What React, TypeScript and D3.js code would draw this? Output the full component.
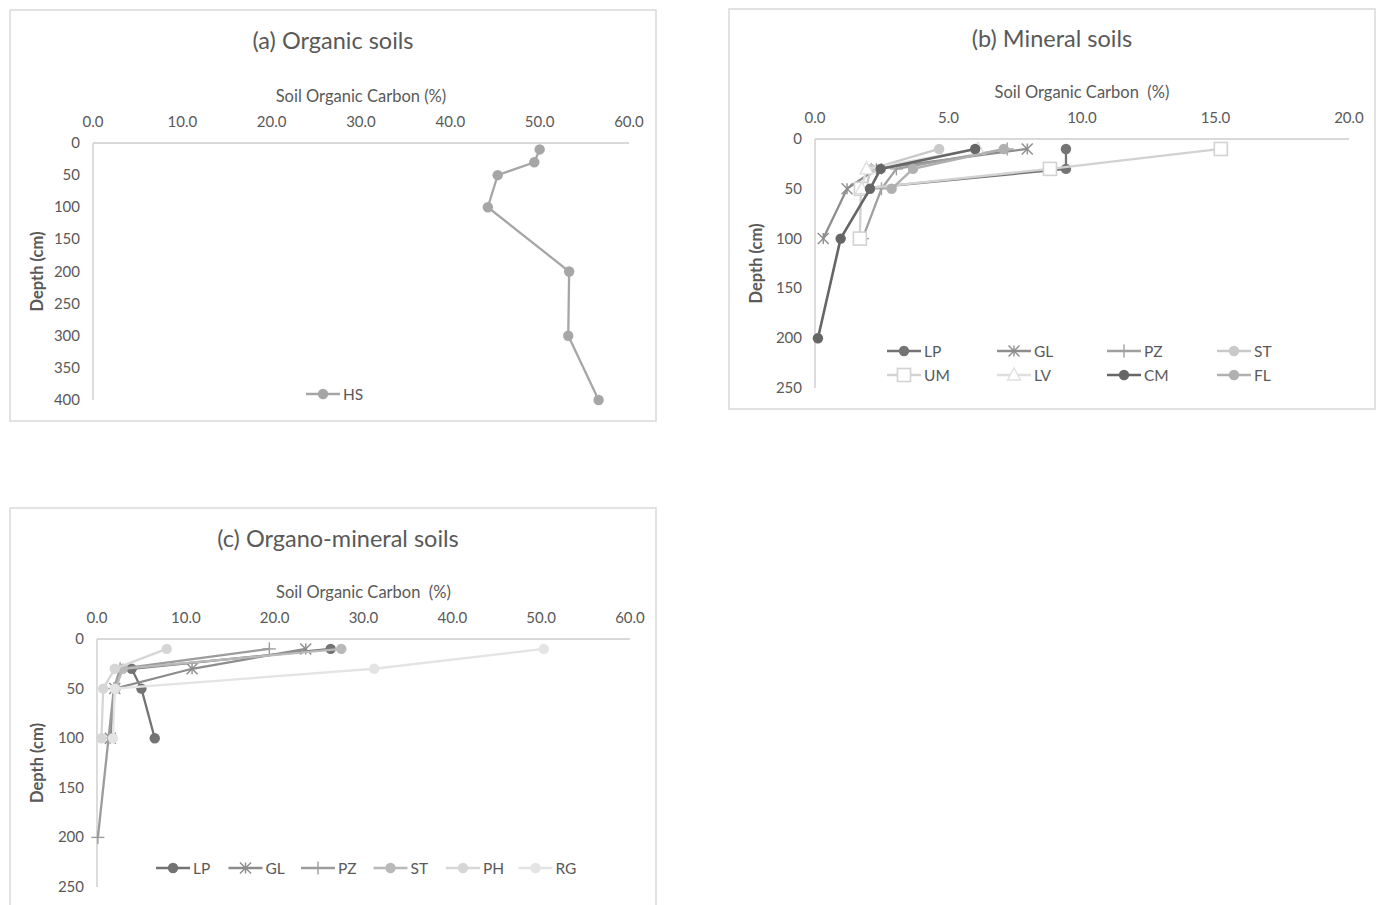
import * as d3 from "d3";

// depths (cm) at which samples were taken
const DEPTH_A = [10, 30, 50, 100, 200, 300, 400];
const DEPTH_BC = [10, 30, 50, 100, 200];

// (a) organic soils
const HS = [50.0, 49.4, 45.3, 44.2, 53.3, 53.2, 56.6];

// (b) mineral soils — each series uses the first N depths
const LP_B = [9.4, 9.4, 1.66];
const GL_B = [7.95, 2.3, 1.2, 0.31];
const PZ_B = [7.2, 3.05, 2.49, 1.78];
const ST_B = [4.65, 2.1, 1.9];
const UM_B = [15.2, 8.8, 1.72, 1.68];
const LV_B = [6.1, 1.93, 1.75];
const CM_B = [6.0, 2.46, 2.06, 0.96, 0.11];
const FL_B = [7.07, 3.67, 2.87];

// (c) organo-mineral soils
const LP_C = [26.3, 3.9, 5.0, 6.5];
const GL_C = [23.5, 10.7, 2.0, 1.5];
const PZ_C = [19.4, 2.6, 1.9, 1.3, 0.1];
const ST_C = [27.5, 2.9, 2.1];
const PH_C = [7.85, 2.0, 0.7, 0.5];
const RG_C = [50.3, 31.2, 2.0, 1.8];

const X_TICKS_60 = [0, 10, 20, 30, 40, 50, 60];
const X_TICKS_20 = [0, 5, 10, 15, 20];
const Y_TICKS_400 = [0, 50, 100, 150, 200, 250, 300, 350, 400];
const Y_TICKS_250 = [0, 50, 100, 150, 200, 250];

const FONT = "Lato, 'Open Sans', sans-serif";
const TEXT = "#595959";
const AXIS = "#d9d9d9";

type Shape = "circle" | "star" | "plus" | "square" | "triangle";
type Series = { name: string; values: number[]; depths: number[]; color: string; shape: Shape; width?: number };

function Marker({ shape, x, y, color }: { shape: Shape; x: number; y: number; color: string }) {
  if (shape === "circle") return <circle cx={x} cy={y} r={5.2} fill={color} />;
  if (shape === "star") {
    const s = 5.5;
    return (
      <g stroke={color} strokeWidth={1.4}>
        <line x1={x - s} y1={y - s} x2={x + s} y2={y + s} />
        <line x1={x - s} y1={y + s} x2={x + s} y2={y - s} />
        <line x1={x} y1={y - s} x2={x} y2={y + s} />
      </g>
    );
  }
  if (shape === "plus") {
    const s = 6.5;
    return (
      <g stroke={color} strokeWidth={1.4}>
        <line x1={x - s} y1={y} x2={x + s} y2={y} />
        <line x1={x} y1={y - s} x2={x} y2={y + s} />
      </g>
    );
  }
  if (shape === "square")
    return <rect x={x - 6.5} y={y - 6.5} width={13} height={13} fill="white" stroke={color} strokeWidth={1.6} />;
  return (
    <polygon
      points={`${x},${y - 7} ${x - 6.5},${y + 5} ${x + 6.5},${y + 5}`}
      fill="white"
      stroke={color}
      strokeWidth={1.4}
    />
  );
}

type PanelProps = {
  frame: [number, number, number, number];
  title: string;
  titleX: number;
  titleY: number;
  axisTitle: string;
  xr: [number, number];
  yr: [number, number];
  xMax: number;
  yMax: number;
  xTicks: number[];
  yTicks: number[];
  series: Series[];
  legend: { x0: number; y0: number; dx: number; dy: number; cols: number };
};

function Panel(p: PanelProps) {
  const [fx, fy, fw, fh] = p.frame;
  const x = d3.scaleLinear().domain([0, p.xMax]).range(p.xr);
  const y = d3.scaleLinear().domain([0, p.yMax]).range(p.yr);
  const line = d3
    .line<[number, number]>()
    .x((d) => x(d[0]))
    .y((d) => y(d[1]));
  const midX = (p.xr[0] + p.xr[1]) / 2;
  const midY = (p.yr[0] + p.yr[1]) / 2;
  return (
    <g fontFamily={FONT}>
      <rect x={fx} y={fy} width={fw} height={fh} fill="white" stroke={AXIS} strokeWidth={1.5} />
      <text x={p.titleX} y={p.titleY} textAnchor="middle" fontSize={23.5} fill={TEXT}>
        {p.title}
      </text>
      <text x={midX} y={p.yr[0] - 41} textAnchor="middle" fontSize={16.5} fill={TEXT} style={{ whiteSpace: "pre" }}>
        {p.axisTitle}
      </text>
      <text
        transform={`translate(${fx + 33},${midY}) rotate(-90)`}
        textAnchor="middle"
        fontSize={16.5}
        fontWeight={700}
        fill={TEXT}
      >
        Depth (cm)
      </text>
      {p.xTicks.map((t) => (
        <text key={t} x={x(t)} y={p.yr[0] - 16} textAnchor="middle" fontSize={15} fill={TEXT}>
          {t.toFixed(1)}
        </text>
      ))}
      {p.yTicks.map((t) => (
        <text key={t} x={p.xr[0] - 13} y={y(t) + 5} textAnchor="end" fontSize={15} fill={TEXT}>
          {t}
        </text>
      ))}
      <line x1={p.xr[0]} x2={p.xr[1]} y1={p.yr[0]} y2={p.yr[0]} stroke={AXIS} strokeWidth={1.8} />
      <line x1={p.xr[0]} x2={p.xr[0]} y1={p.yr[0]} y2={p.yr[1]} stroke={AXIS} strokeWidth={1.8} />
      {p.series.map((s) => {
        const pts = s.values.map((v, i) => [v, s.depths[i]] as [number, number]);
        return (
          <g key={s.name}>
            <path d={line(pts) ?? ""} fill="none" stroke={s.color} strokeWidth={s.width ?? 2.3} />
            {pts.map((d, i) => (
              <Marker key={i} shape={s.shape} x={x(d[0])} y={y(d[1])} color={s.color} />
            ))}
          </g>
        );
      })}
      {p.series.map((s, i) => {
        const lx = p.legend.x0 + (i % p.legend.cols) * p.legend.dx;
        const ly = p.legend.y0 + Math.floor(i / p.legend.cols) * p.legend.dy;
        return (
          <g key={s.name}>
            <line x1={lx} x2={lx + 34} y1={ly} y2={ly} stroke={s.color} strokeWidth={s.width ?? 2.3} />
            <Marker shape={s.shape} x={lx + 17} y={ly} color={s.color} />
            <text x={lx + 37} y={ly + 5.5} fontSize={15.5} fill={TEXT}>
              {s.name}
            </text>
          </g>
        );
      })}
    </g>
  );
}

const upTo = (vals: number[], depths: number[]) => depths.slice(0, vals.length);

export default function App() {
  const seriesA: Series[] = [{ name: "HS", values: HS, depths: DEPTH_A, color: "#a6a6a6", shape: "circle" }];
  const seriesB: Series[] = [
    { name: "LP", values: LP_B, depths: upTo(LP_B, DEPTH_BC), color: "#747474", shape: "circle" },
    { name: "GL", values: GL_B, depths: upTo(GL_B, DEPTH_BC), color: "#8e8e8e", shape: "star" },
    { name: "PZ", values: PZ_B, depths: upTo(PZ_B, DEPTH_BC), color: "#a0a0a0", shape: "plus" },
    { name: "ST", values: ST_B, depths: upTo(ST_B, DEPTH_BC), color: "#c9c9c9", shape: "circle" },
    { name: "UM", values: UM_B, depths: upTo(UM_B, DEPTH_BC), color: "#d2d2d2", shape: "square" },
    { name: "LV", values: LV_B, depths: upTo(LV_B, DEPTH_BC), color: "#dfdfdf", shape: "triangle" },
    { name: "CM", values: CM_B, depths: upTo(CM_B, DEPTH_BC), color: "#666666", shape: "circle", width: 2.6 },
    { name: "FL", values: FL_B, depths: upTo(FL_B, DEPTH_BC), color: "#b0b0b0", shape: "circle" },
  ];
  const seriesC: Series[] = [
    { name: "LP", values: LP_C, depths: upTo(LP_C, DEPTH_BC), color: "#737373", shape: "circle" },
    { name: "GL", values: GL_C, depths: upTo(GL_C, DEPTH_BC), color: "#8c8c8c", shape: "star" },
    { name: "PZ", values: PZ_C, depths: upTo(PZ_C, DEPTH_BC), color: "#9c9c9c", shape: "plus" },
    { name: "ST", values: ST_C, depths: upTo(ST_C, DEPTH_BC), color: "#b9b9b9", shape: "circle" },
    { name: "PH", values: PH_C, depths: upTo(PH_C, DEPTH_BC), color: "#d6d6d6", shape: "circle" },
    { name: "RG", values: RG_C, depths: upTo(RG_C, DEPTH_BC), color: "#e4e4e4", shape: "circle" },
  ];

  return (
    <svg width={1379} height={905} style={{ position: "absolute", left: 0, top: 0, background: "white" }}>
      <rect width={1379} height={905} fill="white" />
      <Panel
        frame={[10, 10, 646, 411]}
        title="(a) Organic soils"
        titleX={333}
        titleY={49}
        axisTitle="Soil Organic Carbon (%)"
        xr={[93, 629]}
        yr={[143, 400]}
        xMax={60}
        yMax={400}
        xTicks={X_TICKS_60}
        yTicks={Y_TICKS_400}
        series={seriesA}
        legend={{ x0: 306, y0: 394, dx: 0, dy: 0, cols: 1 }}
      />
      <Panel
        frame={[729, 9, 646, 400]}
        title="(b) Mineral soils"
        titleX={1052}
        titleY={47}
        axisTitle="Soil Organic Carbon  (%)"
        xr={[815, 1349]}
        yr={[139, 388]}
        xMax={20}
        yMax={250}
        xTicks={X_TICKS_20}
        yTicks={Y_TICKS_250}
        series={seriesB}
        legend={{ x0: 887, y0: 351, dx: 110, dy: 24, cols: 4 }}
      />
      <Panel
        frame={[10, 508, 646, 410]}
        title="(c) Organo-mineral soils"
        titleX={338}
        titleY={547}
        axisTitle="Soil Organic Carbon  (%)"
        xr={[97, 630]}
        yr={[639, 887]}
        xMax={60}
        yMax={250}
        xTicks={X_TICKS_60}
        yTicks={Y_TICKS_250}
        series={seriesC}
        legend={{ x0: 156, y0: 868, dx: 72.5, dy: 0, cols: 6 }}
      />
    </svg>
  );
}
